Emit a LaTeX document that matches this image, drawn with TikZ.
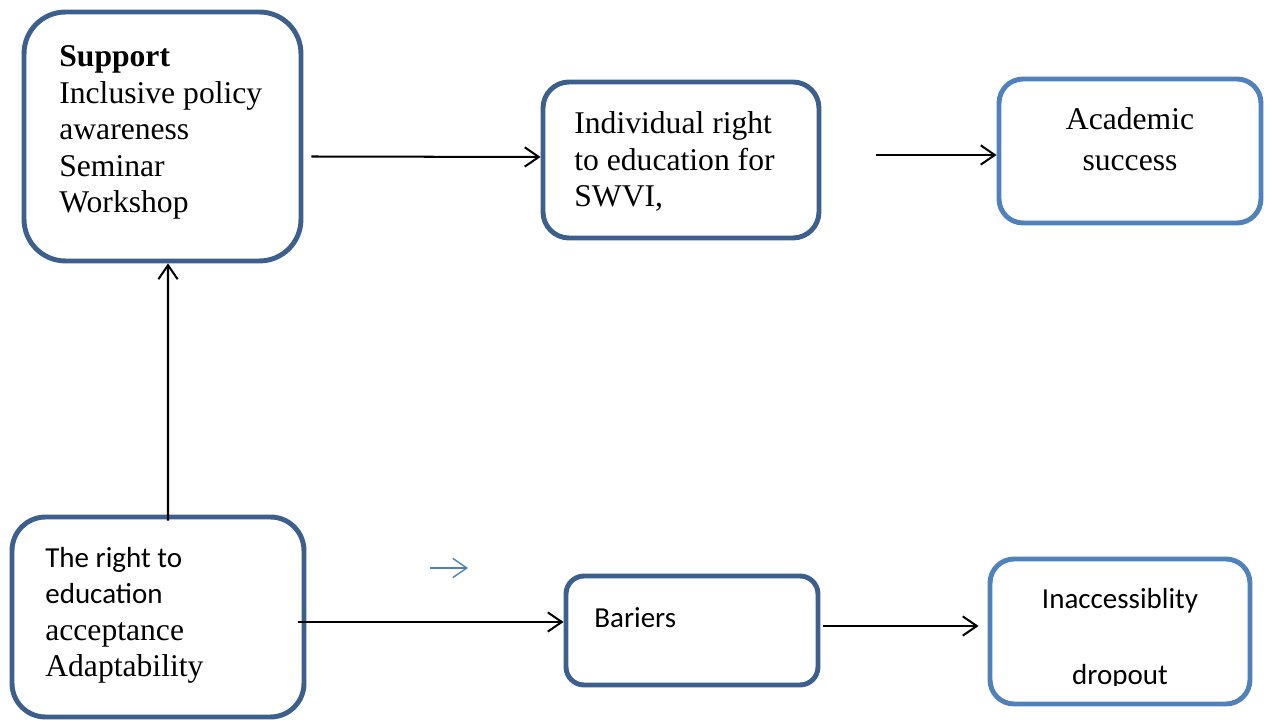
\documentclass[tikz,border=0pt]{standalone}
\usepackage{fontspec}
\setmainfont{Liberation Serif}
\newfontfamily\calibri{Carlito}
\usetikzlibrary{arrows.meta}
\definecolor{boxblue}{RGB}{61,95,142}
\definecolor{lightblue}{RGB}{79,129,189}
\newcommand{\serifbig}{\rmfamily\fontsize{18}{20.8}\selectfont}
\newcommand{\sansmid}{\calibri\fontsize{16.5}{20.8}\selectfont}
\begin{document}
\begin{tikzpicture}[x=0.02cm,y=-0.02cm,
  box/.style={draw=boxblue, line width=2.8pt, inner sep=0pt},
  lbox/.style={box, draw=lightblue},
  txt/.style={inner sep=0pt, align=left, anchor=base west, font=\serifbig},
  arr/.style={-{Straight Barb[length=8pt,width=11pt]}, line width=1.15pt}]
\useasboundingbox (0,0) rectangle (1272,722);
% boxes
\node[box, rounded corners=0.83cm, minimum width=5.54cm, minimum height=4.98cm] (sup) at (162.5,136.5) {};
\node[box, rounded corners=0.52cm, minimum width=5.52cm, minimum height=3.12cm] (ind) at (681,160) {};
\node[lbox, rounded corners=0.48cm, minimum width=5.24cm, minimum height=2.88cm] (acad) at (1130,151) {};
\node[box, rounded corners=0.67cm, minimum width=5.84cm, minimum height=4.0cm] (right) at (158,617) {};
\node[box, rounded corners=0.36cm, minimum width=5.04cm, minimum height=2.18cm] (bar) at (692,630.5) {};
\node[lbox, rounded corners=0.48cm, minimum width=5.2cm, minimum height=2.9cm] (inacc) at (1120,631.5) {};
% texts (base = last line)
\node[txt] (suptxt) at (59,213) {\textbf{Support}\\Inclusive policy\\awareness\\Seminar\\Workshop};
\node[txt] (indtxt) at (574,207) {Individual right\\to education for\\SWVI,};
\node[txt, align=center, anchor=base] (acadtxt) at (1130,171) {Academic\\[3pt]success};
\node[txt] (righttxt) at (45,677) {\sansmid The right to\\\sansmid education\\\serifbig acceptance\\\serifbig Adaptability};
\node[txt, font=\sansmid] (bartxt) at (594,628) {Bariers};
\begin{scope}
\clip (980,540) rectangle (1260,686);
\node[txt, align=center, anchor=base, font=\sansmid] (inacctxt) at (1120,685) {Inaccessiblity\\[22.7pt]dropout};
\end{scope}
% arrows
\draw[arr] ([shift={(8,20)}]sup.east) -- ([shift={(0,-3)}]ind.west);
\draw[arr] ([shift={(55,-5)}]ind.east) -- ([shift={(0,4)}]acad.west);
\draw[arr] ([shift={(10,6)}]right.north) -- ([shift={(5.5,0)}]sup.south);
\draw[arr] ([shift={(-8,5)}]right.east) -- ([shift={(0,-8.5)}]bar.west);
\draw[arr] ([shift={(3,-4.5)}]bar.east) -- ([shift={(-9,-5.5)}]inacc.west);
\coordinate (s1) at (430,568);
\coordinate (s2) at (468,568);
\draw[arr, draw=lightblue, line width=0.8pt] (s1) -- (s2);
\end{tikzpicture}
\end{document}
